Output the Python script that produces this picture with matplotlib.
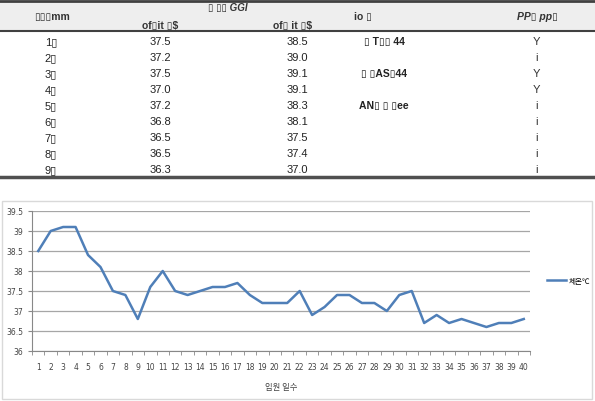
import matplotlib
matplotlib.use("Agg")
import matplotlib.pyplot as plt
from matplotlib.patches import Rectangle

# table data
day_labels = ["1▯", "2▯", "3▯", "4▯", "5▯", "6▯", "7▯", "8▯", "9▯"]
low_temp = [37.5, 37.2, 37.5, 37.0, 37.2, 36.8, 36.5, 36.5, 36.3]
high_temp = [38.5, 39.0, 39.1, 39.1, 38.3, 38.1, 37.5, 37.4, 37.0]
notes = ["▯ T▯▯ 44", "", "▯ ▯AS▯44", "", "AN▯ ▯ ▯ee", "", "", "", ""]
flags = ["Y", "i", "Y", "Y", "i", "i", "i", "i", "i"]
headers = ["▯▯▯mm", "▯ ▯▯ GGI", "of▯it ▯$", "of▯ it ▯$", "io ▯", "PP▯ pp▯"]

# chart data
days = list(range(1, 41))
body_temp = [38.5, 39.0, 39.1, 39.1, 38.4, 38.1, 37.5, 37.4, 36.8, 37.6,
             38.0, 37.5, 37.4, 37.5, 37.6, 37.6, 37.7, 37.4, 37.2, 37.2,
             37.2, 37.5, 36.9, 37.1, 37.4, 37.4, 37.2, 37.2, 37.0, 37.4,
             37.5, 36.7, 36.9, 36.7, 36.8, 36.7, 36.6, 36.7, 36.7, 36.8]

W, H = 595, 402
fig = plt.figure(figsize=(W / 100, H / 100), dpi=100)

# overlay in pixel coordinates for the table and frame
ov = fig.add_axes([0, 0, 1, 1])
ov.set_xlim(0, W)
ov.set_ylim(H, 0)
ov.axis("off")

fam = ["Liberation Sans", "DejaVu Sans"]
ov.add_patch(Rectangle((0, 2), W, 30, facecolor="#eeeeee", edgecolor="none"))
ov.plot([0, W], [2, 2], color="#404040", lw=2)
ov.plot([0, W], [32, 32], color="#404040", lw=1.5)
ov.plot([0, W], [178, 178], color="#505050", lw=2.5)

ov.text(52, 17, headers[0], ha="center", va="center", fontsize=7.5, fontweight="bold", family=fam, color="#333333")
ov.text(228, 8, headers[1], ha="center", va="center", fontsize=7, fontweight="bold", fontstyle="italic", family=fam, color="#333333")
ov.text(160, 26, headers[2], ha="center", va="center", fontsize=7.5, fontweight="bold", family=fam, color="#333333")
ov.text(293, 26, headers[3], ha="center", va="center", fontsize=7.5, fontweight="bold", family=fam, color="#333333")
ov.text(363, 17, headers[4], ha="center", va="center", fontsize=7.5, fontweight="bold", family=fam, color="#333333")
ov.text(537, 17, headers[5], ha="center", va="center", fontsize=7.5, fontweight="bold", fontstyle="italic", family=fam, color="#333333")

for i in range(len(day_labels)):
    y = 42 + 16 * i
    ov.text(57, y, day_labels[i], ha="right", va="center", fontsize=8, family=fam, color="#222222")
    ov.text(160, y, f"{low_temp[i]:.1f}", ha="center", va="center", fontsize=8, family=fam, color="#222222")
    ov.text(297, y, f"{high_temp[i]:.1f}", ha="center", va="center", fontsize=8, family=fam, color="#222222")
    ov.text(384, y, notes[i], ha="center", va="center", fontsize=7.5, fontweight="bold", family=fam, color="#222222")
    ov.text(536, y, flags[i], ha="center", va="center", fontsize=8, family=fam, color="#333333")

# chart frame
ov.add_patch(Rectangle((2, 202), 590, 198, facecolor="none", edgecolor="#d9d9d9", lw=1))

# line chart
ax = fig.add_axes([32 / W, 1 - 352 / H, (530 - 32) / W, (352 - 212) / H])
ax.plot(days, body_temp, color="#4f7fb8", lw=1.8, label="체온℃")
ax.set_xlim(0.5, 40.5)
ax.set_ylim(36, 39.5)
ax.set_yticks([36, 36.5, 37, 37.5, 38, 38.5, 39, 39.5])
ax.set_yticklabels(["36", "36.5", "37", "37.5", "38", "38.5", "39", "39.5"])
ax.set_xticks(days)
ax.set_xticks([d + 0.5 for d in range(0, 41)], minor=True)
ax.tick_params(axis="x", which="major", length=0, labelsize=5.5, colors="#444444", pad=8)
ax.tick_params(axis="x", which="minor", length=3, color="#888888", direction="out")
ax.tick_params(axis="y", length=3, labelsize=5.5, colors="#444444", direction="out")
ax.tick_params(axis="y", color="#888888")
ax.grid(axis="y", color="#a6a6a6", lw=0.9)
ax.set_axisbelow(True)
for s in ["top", "right"]:
    ax.spines[s].set_visible(False)
ax.spines["left"].set_color("#888888")
ax.spines["bottom"].set_color("#888888")
ax.set_xlabel("입원 일수", fontsize=6, family=["Noto Sans CJK KR", "DejaVu Sans"], color="#444444", labelpad=8)
leg = ax.legend(loc="center left", bbox_to_anchor=(1.02, 0.5), frameon=False,
                prop={"family": ["Noto Sans CJK KR", "DejaVu Sans"], "size": 5.5},
                handlelength=2.5, handletextpad=0.3)

fig.savefig("out.png", dpi=100)
